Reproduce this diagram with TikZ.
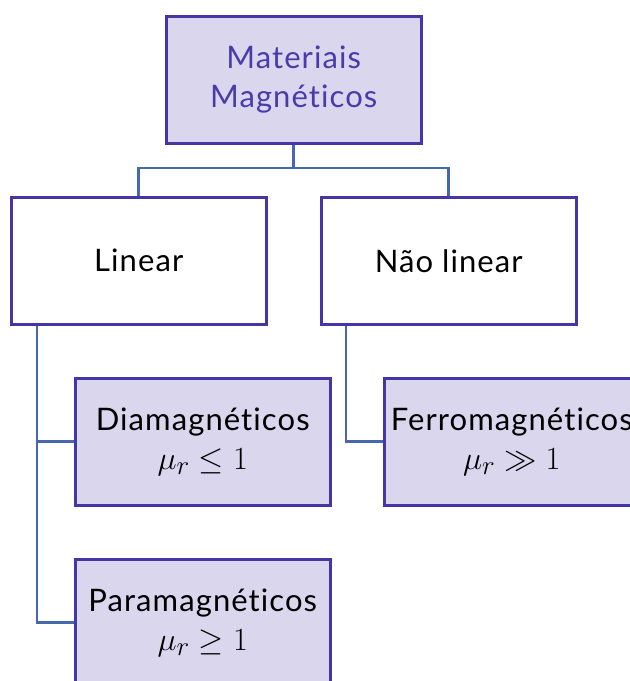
\documentclass[tikz,border=0pt]{standalone}
\usepackage{graphicx}
\usepackage{amssymb}
\usepackage{fontspec}
\setmainfont{Lato}[Ligatures={NoCommon}, LetterSpace=3.5]
\definecolor{boxfill}{HTML}{DAD6ED}
\definecolor{boxline}{HTML}{4535A5}
\definecolor{titletext}{HTML}{4A3AAC}
\definecolor{linkcol}{HTML}{4568AF}
\newcommand\bigmath[1]{\scalebox{1.3}{$#1$}}
\tikzset{
  basebox/.style={draw=boxline, line width=2.5pt, minimum width=255pt, minimum height=127pt,
    inner sep=0pt, anchor=north west, align=center,
    font=\fontsize{31}{39}\selectfont},
  filledbox/.style={basebox, fill=boxfill},
  plainbox/.style={basebox, fill=white},
  link/.style={draw=linkcol, line width=2.8pt}
}
\begin{document}
\begin{tikzpicture}[x=1pt,y=-1pt]
\useasboundingbox (0,0) rectangle (630,681);
\clip (0,0) rectangle (630,681);
\node[filledbox, text=titletext] (top) at (165,15) {Materiais\\Magnéticos};
\node[plainbox] (lin) at (10,196) {Linear};
\node[plainbox] (nlin) at (320,196) {Não linear};
\node[filledbox] (dia) at (74,377) {Diamagnéticos\\\bigmath{\mu_r \leq 1}};
\node[filledbox] (ferro) at (383,377) {Ferromagnéticos\\\bigmath{\mu_r \gg 1}};
\node[filledbox] (para) at (74,558) {Paramagnéticos\\\bigmath{\mu_r \geq 1}};
\coordinate (j) at (top.south |- 0,168);
\draw[link] (top.south) -- (j);
\draw[link] (lin.north) |- (j) -| (nlin.north);
\draw[link] (lin.south west) ++(27,0) coordinate (lv) -- (lv |- para.west) -- (para.west);
\draw[link] (lv |- dia.west) -- (dia.west);
\draw[link] (nlin.south west) ++(26,0) coordinate (nv) -- (nv |- ferro.west) -- (ferro.west);
\end{tikzpicture}
\end{document}
